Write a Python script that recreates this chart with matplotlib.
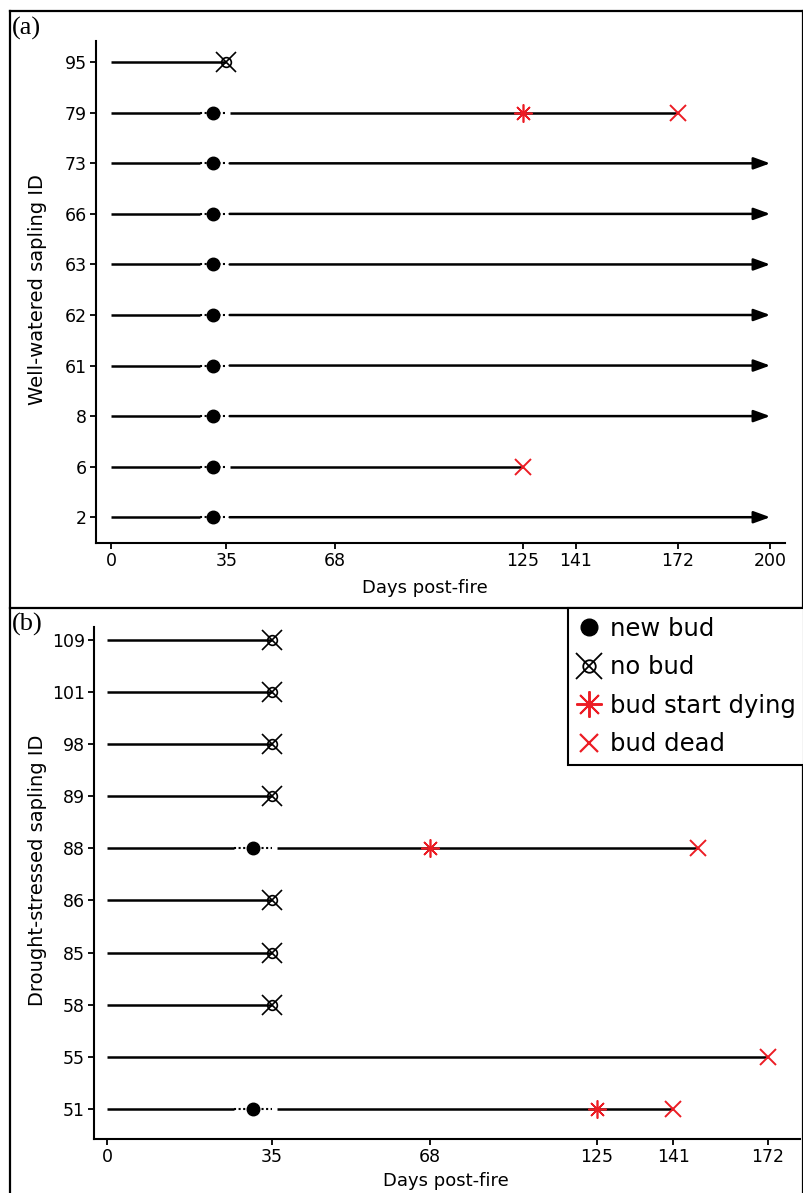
import numpy as np
import matplotlib
matplotlib.use("Agg")
import matplotlib.pyplot as plt
from matplotlib.lines import Line2D
from matplotlib.legend_handler import HandlerTuple

nan = np.nan

# ---------------- data ----------------
# Panel (a): well-watered saplings (top to bottom)
ids_a = [95, 79, 73, 66, 63, 62, 61, 8, 6, 2]
end_a = [35, 172, 200, 200, 200, 200, 200, 200, 125, 200]
newbud_a = [nan, 31, 31, 31, 31, 31, 31, 31, 31, 31]
nobud_a = [35, nan, nan, nan, nan, nan, nan, nan, nan, nan]
dying_a = [nan, 125, nan, nan, nan, nan, nan, nan, nan, nan]
dead_a = [nan, 172, nan, nan, nan, nan, nan, nan, 125, nan]
xticks_a = [0, 35, 68, 125, 141, 172, 200]

# Panel (b): drought-stressed saplings (top to bottom)
ids_b = [109, 101, 98, 89, 88, 86, 85, 58, 55, 51]
end_b = [35, 35, 35, 35, 149, 35, 35, 35, 172, 141]
newbud_b = [nan, nan, nan, nan, 31, nan, nan, nan, nan, 31]
nobud_b = [35, 35, 35, 35, nan, 35, 35, 35, nan, nan]
dying_b = [nan, nan, nan, nan, 68, nan, nan, nan, nan, 125]
dead_b = [nan, nan, nan, nan, 149, nan, nan, nan, 172, 141]
xticks_b = [0, 35, 68, 125, 141, 172]
# relative spacing of the (non-linear) day axis in panel (b)
xtick_pos_b = [0, 165, 323, 490, 566, 661]

# dotted interval around the new-bud observation (days)
dot_start, dot_end = 27, 36
ALIVE_END = 200

RED = "#ec1c24"
plt.rcParams['font.family'] = ['DejaVu Sans']

W, H = 804, 1193
fig = plt.figure(figsize=(W / 100, H / 100), dpi=100)


def fx(px):
    return px / W


def fy(py):
    return 1 - py / H


axa = fig.add_axes([fx(96), fy(543), fx(785 - 96), (543 - 41) / H])
axb = fig.add_axes([fx(94), fy(1139), fx(800 - 94), (1139 - 627) / H])

# piecewise-linear scale for panel (b)
d_arr = np.array(xticks_b, float)
p_arr = np.array(xtick_pos_b, float)
s0 = (p_arr[1] - p_arr[0]) / (d_arr[1] - d_arr[0])
s1 = (p_arr[-1] - p_arr[-2]) / (d_arr[-1] - d_arr[-2])


def fwd(x):
    x = np.asarray(x, float)
    y = np.interp(x, d_arr, p_arr)
    y = np.where(x < d_arr[0], p_arr[0] + (x - d_arr[0]) * s0, y)
    y = np.where(x > d_arr[-1], p_arr[-1] + (x - d_arr[-1]) * s1, y)
    return y


def inv(y):
    y = np.asarray(y, float)
    x = np.interp(y, p_arr, d_arr)
    x = np.where(y < p_arr[0], d_arr[0] + (y - p_arr[0]) / s0, x)
    x = np.where(y > p_arr[-1], d_arr[-1] + (y - p_arr[-1]) / s1, x)
    return x


axb.set_xscale('function', functions=(fwd, inv))

LW = 1.8


def draw_panel(ax, ids, ends, newbud, nobud, dying, dead):
    n = len(ids)
    for i in range(n):
        y = n - 1 - i
        end = ends[i]
        alive = (end == ALIVE_END) and np.isnan(dead[i])
        if not np.isnan(newbud[i]):
            ax.plot([0, dot_start], [y, y], color='black', lw=LW, solid_capstyle='butt', zorder=2)
            ax.plot([dot_start, dot_end - 1], [y, y], color='black', lw=1.5,
                    linestyle=(0, (1, 1.2)), zorder=2)
            seg_start = dot_end
        else:
            seg_start = 0
        if alive:
            ax.annotate('', xy=(end, y), xytext=(seg_start, y),
                        arrowprops=dict(arrowstyle='-|>,head_length=0.55,head_width=0.2',
                                        color='black', lw=LW, shrinkA=0, shrinkB=0,
                                        mutation_scale=18), zorder=2)
        else:
            ax.plot([seg_start, end], [y, y], color='black', lw=LW, solid_capstyle='butt', zorder=2)
        if not np.isnan(newbud[i]):
            ax.plot(newbud[i], y, 'o', color='black', ms=9, zorder=4)
        if not np.isnan(nobud[i]):
            ax.plot(nobud[i], y, 'o', mfc='none', mec='black', mew=1.2, ms=7, zorder=4)
            ax.plot(nobud[i], y, 'x', color='black', mew=1.2, ms=15, zorder=4)
        if not np.isnan(dying[i]):
            ax.plot(dying[i], y, marker=(8, 2, 0), color=RED, mec=RED, mew=1.2, ms=13, zorder=4)
        if not np.isnan(dead[i]):
            ax.plot(dead[i], y, 'x', color=RED, mew=1.4, ms=11, zorder=4)
    ax.set_yticks(range(n))
    ax.set_yticklabels([str(v) for v in ids[::-1]])
    for s in ['top', 'right']:
        ax.spines[s].set_visible(False)
    for s in ['left', 'bottom']:
        ax.spines[s].set_linewidth(1.5)
    ax.tick_params(axis='both', direction='out', length=4.5, width=1.3, labelsize=12.5, pad=2)


draw_panel(axa, ids_a, end_a, newbud_a, nobud_a, dying_a, dead_a)
draw_panel(axb, ids_b, end_b, newbud_b, nobud_b, dying_b, dead_b)

axa.set_xticks(xticks_a)
axa.set_xticklabels([str(v) for v in xticks_a])
axa.set_xlim(-4.55, 204.5)
axa.set_ylim(-0.51, 9.42)

axb.set_xticks(xticks_b)
axb.set_xticklabels([str(v) for v in xticks_b])
axb.xaxis.set_minor_locator(matplotlib.ticker.NullLocator())
axb.set_xlim(-2.76, 182.4)
axb.set_ylim(-0.58, 9.25)

# axis labels
fig.text(fx(425), fy(588), 'Days post-fire', ha='center', va='center', fontsize=13)
fig.text(fx(446), fy(1181), 'Days post-fire', ha='center', va='center', fontsize=13)
fig.text(fx(38), fy(290), 'Well-watered sapling ID', rotation=90, ha='center', va='center', fontsize=14)
fig.text(fx(38), fy(870), 'Drought-stressed sapling ID', rotation=90, ha='center', va='center', fontsize=14)

# panel letters
fig.text(fx(12), fy(28), '(a)', family='Liberation Serif', fontsize=19, ha='left', va='center')
fig.text(fx(12), fy(624), '(b)', family='Liberation Serif', fontsize=19, ha='left', va='center')

# panel frames
frame_kw = dict(color='black', lw=1.6, transform=fig.transFigure)
for (x0, y0, x1, y1) in [(10, 11, 803, 11), (10, 11, 10, 1193), (803, 11, 803, 1193),
                         (10, 608, 803, 608)]:
    fig.add_artist(Line2D([fx(x0), fx(x1)], [fy(y0), fy(y1)], **frame_kw))

# legend
h_new = Line2D([], [], marker='o', color='black', ls='none', ms=12)
h_no1 = Line2D([], [], marker='o', mfc='none', mec='black', mew=1.3, ls='none', ms=9)
h_no2 = Line2D([], [], marker='x', color='black', mew=1.3, ls='none', ms=19)
h_dying = Line2D([], [], marker=(8, 2, 0), color=RED, mec=RED, mew=1.4, ls='none', ms=19)
h_dead = Line2D([], [], marker='x', color=RED, mew=1.6, ls='none', ms=13)
leg = fig.legend([h_new, (h_no1, h_no2), h_dying, h_dead],
                 ['new bud', 'no bud', 'bud start dying', 'bud dead'],
                 handler_map={tuple: HandlerTuple(ndivide=1, pad=0)},
                 loc='upper right', bbox_to_anchor=(fx(804), fy(608)),
                 bbox_transform=fig.transFigure, frameon=True, fancybox=False,
                 edgecolor='black', framealpha=1, fontsize=17.5, handlelength=1.0,
                 handletextpad=0.35, borderpad=0.35, labelspacing=0.6, borderaxespad=0)
leg.get_frame().set_linewidth(1.5)

fig.savefig('out.png', dpi=100)
